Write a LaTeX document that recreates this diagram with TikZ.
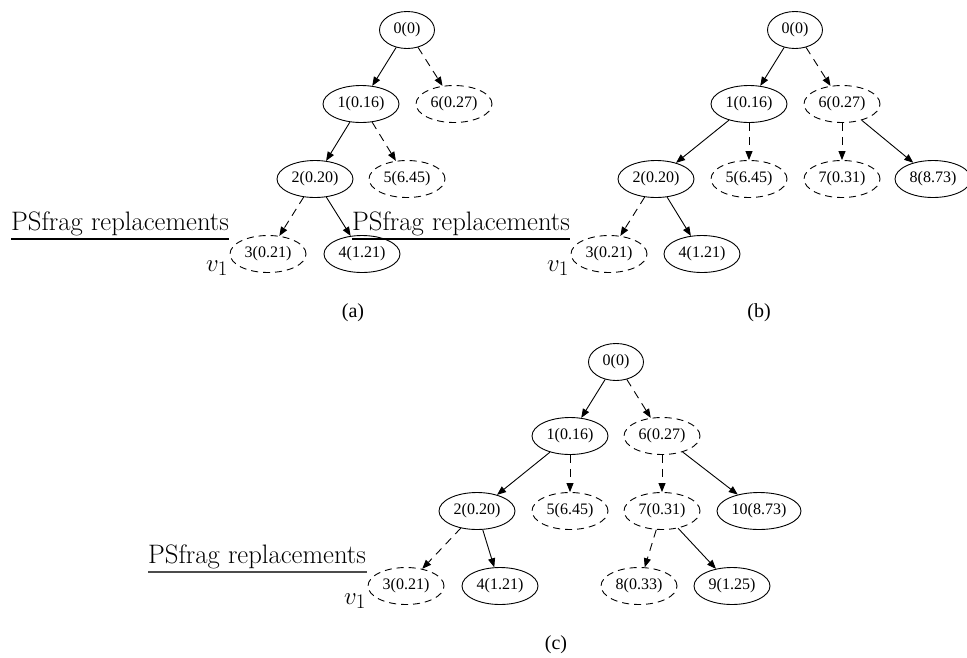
\documentclass[tikz,border=0pt]{standalone}
\usepackage{fontspec}
\usetikzlibrary{shapes.geometric,arrows.meta}
\newfontfamily\nodefont{Liberation Serif}
\begin{document}
\begin{tikzpicture}[x=1pt,y=-1pt,
  nd/.style={ellipse,draw,line width=0.9pt,inner sep=0pt,minimum width=76pt,minimum height=37pt,
    font=\nodefont\fontsize{16}{18}\selectfont},
  dnd/.style={nd,dash pattern=on 7pt off 5pt},
  narrow/.style={minimum width=55pt},
  wide/.style={minimum width=84pt},
  sedge/.style={line width=0.9pt,-{Triangle[length=9pt,width=7pt]}},
  dedge/.style={sedge,dash pattern=on 8pt off 6pt},
  psf/.style={anchor=base west,inner sep=0pt,font=\fontsize{26.7}{30}\selectfont},
  psline/.style={line width=1.1pt},
  vlab/.style={anchor=base east,inner sep=0pt,font=\fontsize{30}{32}\selectfont},
  subcap/.style={inner sep=0pt,font=\nodefont\fontsize{20}{24}\selectfont}]
\useasboundingbox (0,0) rectangle (967,657);

% ---------- (a) ----------
\node[psf] (pa) at (11,230) {PSfrag replacements};
\coordinate (pal) at (11,239);
\coordinate (par) at (229,239);
\draw[psline] (pal) -- (par);
\node[vlab] (va) at (228,271) {$v_1$};

\node[nd,narrow] (a0) at (407,30) {0(0)};
\node[nd]  (a1) at (361,104) {1(0.16)};
\node[dnd] (a6) at (454,104) {6(0.27)};
\node[nd]  (a2) at (315,179) {2(0.20)};
\node[dnd] (a5) at (407,179) {5(6.45)};
\node[dnd] (a3) at (268,254) {3(0.21)};
\node[nd]  (a4) at (362,254) {4(1.21)};
\draw[sedge] (a0) -- (a1);
\draw[dedge] (a0) -- (a6);
\draw[sedge] (a1) -- (a2);
\draw[dedge] (a1) -- (a5);
\draw[dedge] (a2) -- (a3);
\draw[sedge] (a2) -- (a4);
\node[subcap] (capa) at (353,313) {(a)};

% ---------- (b) ----------
\node[psf] (pb) at (352,230) {PSfrag replacements};
\coordinate (pbl) at (352,239);
\coordinate (pbr) at (570,239);
\draw[psline] (pbl) -- (pbr);
\node[vlab] (vb) at (569,271) {$v_1$};

\node[nd,narrow] (b0) at (795,30) {0(0)};
\node[nd]  (b1) at (749,104) {1(0.16)};
\node[dnd] (b6) at (842,104) {6(0.27)};
\node[nd]  (b2) at (656,179) {2(0.20)};
\node[dnd] (b5) at (749,179) {5(6.45)};
\node[dnd] (b7) at (842,179) {7(0.31)};
\node[nd]  (b8) at (933,179) {8(8.73)};
\node[dnd] (b3) at (609,254) {3(0.21)};
\node[nd]  (b4) at (702,254) {4(1.21)};
\draw[sedge] (b0) -- (b1);
\draw[dedge] (b0) -- (b6);
\draw[sedge] (b1) -- (b2);
\draw[dedge] (b1) -- (b5);
\draw[dedge] (b6) -- (b7);
\draw[sedge] (b6) -- (b8);
\draw[dedge] (b2) -- (b3);
\draw[sedge] (b2) -- (b4);
\node[subcap] (capb) at (759,313) {(b)};

% ---------- (c) ----------
\node[psf] (pc) at (148,563) {PSfrag replacements};
\coordinate (pcl) at (148,572);
\coordinate (pcr) at (367,572);
\draw[psline,black!70] (pcl) -- (pcr);
\node[vlab] (vc) at (366,604) {$v_1$};

\node[nd,narrow] (c0) at (616,362) {0(0)};
\node[nd]  (c1) at (570,436) {1(0.16)};
\node[dnd] (c6) at (662,436) {6(0.27)};
\node[nd]  (c2) at (477,511) {2(0.20)};
\node[dnd] (c5) at (570,511) {5(6.45)};
\node[dnd] (c7) at (662,511) {7(0.31)};
\node[nd,wide] (c10) at (759,511) {10(8.73)};
\node[dnd] (c3) at (406,586) {3(0.21)};
\node[nd]  (c4) at (500,586) {4(1.21)};
\node[dnd] (c8) at (639,586) {8(0.33)};
\node[nd]  (c9) at (732,586) {9(1.25)};
\draw[sedge] (c0) -- (c1);
\draw[dedge] (c0) -- (c6);
\draw[sedge] (c1) -- (c2);
\draw[dedge] (c1) -- (c5);
\draw[dedge] (c6) -- (c7);
\draw[sedge] (c6) -- (c10);
\draw[dedge] (c2) -- (c3);
\draw[sedge] (c2) -- (c4);
\draw[dedge] (c7) -- (c8);
\draw[sedge] (c7) -- (c9);
\node[subcap] (capc) at (556,645) {(c)};
\end{tikzpicture}
\end{document}
